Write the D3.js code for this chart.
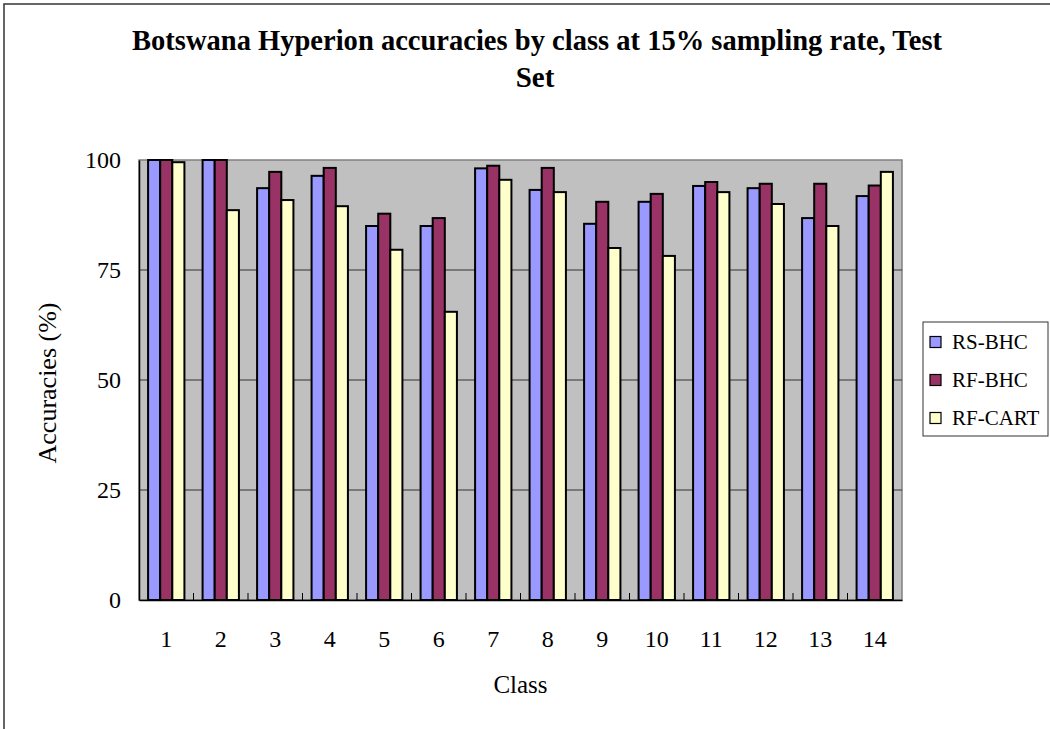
<!DOCTYPE html>
<html>
<head>
<meta charset="utf-8">
<script src="https://cdn.jsdelivr.net/npm/d3@7"></script>
<style>
  body { margin: 0; background: #fff; }
  svg { display: block; }
  svg text { font-family: "Liberation Serif", "Tinos", "Times New Roman", Times, "DejaVu Serif", serif; }
</style>
</head>
<body>
<svg id="chart" width="1050" height="729"></svg>
<script>
// --- Data ---
const classes = ["1", "2", "3", "4", "5", "6", "7", "8", "9", "10", "11", "12", "13", "14"];
const seriesNames = ["RS-BHC", "RF-BHC", "RF-CART"];
const rsBhc  = [100, 100, 93.6, 96.4, 85.0, 85.0, 98.1, 93.2, 85.5, 90.5, 94.1, 93.6, 86.8, 91.8];
const rfBhc  = [100, 100, 97.3, 98.2, 87.8, 86.8, 98.7, 98.2, 90.5, 92.3, 95.0, 94.6, 94.6, 94.2];
const rfCart = [99.5, 88.6, 90.9, 89.5, 79.6, 65.5, 95.5, 92.7, 80.0, 78.2, 92.7, 90.0, 85.0, 97.3];
const yTicks = [0, 25, 50, 75, 100];
const colors = ["#9999ff", "#993366", "#ffffcc"];

const values = [rsBhc, rfBhc, rfCart];

const svg = d3.select("#chart");

// outer chart border
svg.append("rect")
    .attr("x", 4).attr("y", 4)
    .attr("width", 1060).attr("height", 740)
    .attr("fill", "none")
    .attr("stroke", "#333")
    .attr("stroke-width", 1.5);

// plot area
const plot = { left: 139, right: 902, top: 160, bottom: 600 };

const x0 = d3.scaleBand().domain(classes).range([plot.left, plot.right]);
const bw = x0.bandwidth();
const x1 = d3.scaleBand().domain(seriesNames).range([bw / 6, bw * 5 / 6]);
const y = d3.scaleLinear().domain([0, 100]).range([plot.bottom, plot.top]);

svg.append("rect")
    .attr("x", plot.left).attr("y", plot.top)
    .attr("width", plot.right - plot.left)
    .attr("height", plot.bottom - plot.top)
    .attr("fill", "#c0c0c0")
    .attr("stroke", "#808080")
    .attr("stroke-width", 1.5);

// gridlines
svg.append("g")
    .selectAll("line")
    .data(yTicks.filter(t => t > 0 && t < 100))
    .join("line")
    .attr("x1", plot.left).attr("x2", plot.right)
    .attr("y1", d => y(d)).attr("y2", d => y(d))
    .attr("stroke", "#333")
    .attr("stroke-width", 1);

// bars
const groups = svg.append("g")
    .selectAll("g")
    .data(classes)
    .join("g")
    .attr("transform", d => `translate(${x0(d)},0)`);

groups.selectAll("rect")
    .data((c, i) => seriesNames.map((s, k) => ({ s, k, v: values[k][i] })))
    .join("rect")
    .attr("x", d => x1(d.s))
    .attr("y", d => y(d.v))
    .attr("width", x1.bandwidth())
    .attr("height", d => y(0) - y(d.v))
    .attr("fill", d => colors[d.k])
    .attr("stroke", "#000")
    .attr("stroke-width", 2);

// x axis with inside ticks
const xAxis = d3.axisBottom(x0).tickSize(0).tickPadding(0);
const gx = svg.append("g")
    .attr("transform", `translate(0,${plot.bottom})`)
    .call(xAxis)
    .attr("font-family", null);
gx.select(".domain").attr("stroke", "#000").attr("stroke-width", 1.5);
gx.selectAll("text")
    .attr("y", 47)
    .attr("dy", 0)
    .attr("font-size", 24)
    .attr("fill", "#000");

// category separator ticks (pointing up into the plot)
svg.append("g")
    .selectAll("line")
    .data(classes.slice(1))
    .join("line")
    .attr("x1", d => x0(d)).attr("x2", d => x0(d))
    .attr("y1", plot.bottom).attr("y2", plot.bottom - 7)
    .attr("stroke", "#000");

// y axis
const yAxis = d3.axisLeft(y).tickValues(yTicks).tickSize(0).tickPadding(18);
const gy = svg.append("g")
    .attr("transform", `translate(${plot.left},0)`)
    .call(yAxis)
    .attr("font-family", null);
gy.select(".domain").attr("stroke", "#000").attr("stroke-width", 1.5);
gy.selectAll("text")
    .attr("font-size", 24)
    .attr("fill", "#000");

// title
svg.append("text")
    .attr("x", 537).attr("y", 50)
    .attr("text-anchor", "middle")
    .attr("font-size", 29)
    .attr("font-weight", "bold")
    .attr("textLength", 810)
    .attr("lengthAdjust", "spacingAndGlyphs")
    .text("Botswana Hyperion accuracies by class at 15% sampling rate, Test");
svg.append("text")
    .attr("x", 535).attr("y", 87)
    .attr("text-anchor", "middle")
    .attr("font-size", 29)
    .attr("font-weight", "bold")
    .text("Set");

// axis titles
svg.append("text")
    .attr("x", (plot.left + plot.right) / 2).attr("y", 693)
    .attr("text-anchor", "middle")
    .attr("font-size", 25)
    .text("Class");
svg.append("text")
    .attr("transform", `translate(56,${(plot.top + plot.bottom) / 2 + 3}) rotate(-90)`)
    .attr("text-anchor", "middle")
    .attr("font-size", 26)
    .text("Accuracies (%)");

// legend
const legend = svg.append("g");
legend.append("rect")
    .attr("x", 923).attr("y", 322)
    .attr("width", 125).attr("height", 114)
    .attr("fill", "#fff")
    .attr("stroke", "#333")
    .attr("stroke-width", 1);
const legendRows = [342, 380, 418];
const items = legend.selectAll("g.item")
    .data(seriesNames)
    .join("g")
    .attr("class", "item")
    .attr("transform", (d, i) => `translate(930,${legendRows[i]})`);
items.append("rect")
    .attr("x", 0).attr("y", -5.5)
    .attr("width", 11).attr("height", 11)
    .attr("fill", (d, i) => colors[i])
    .attr("stroke", "#000")
    .attr("stroke-width", 1.2);
items.append("text")
    .attr("x", 22).attr("dy", "0.35em")
    .attr("font-size", 21)
    .text(d => d);
</script>
</body>
</html>
